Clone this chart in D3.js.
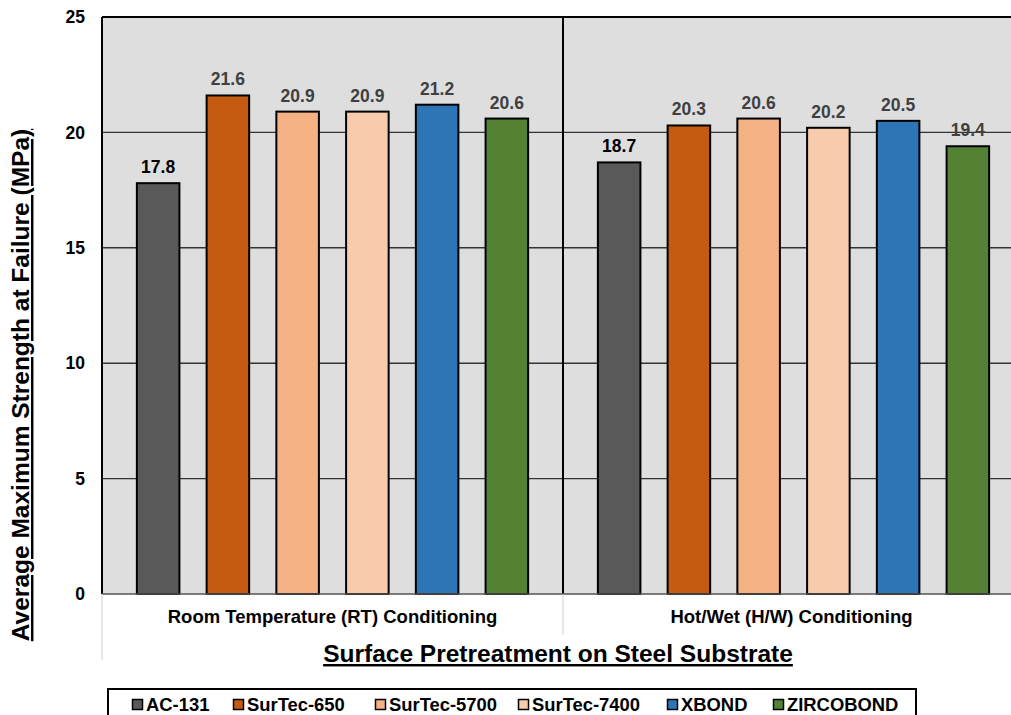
<!DOCTYPE html>
<html><head><meta charset="utf-8">
<script src="https://cdn.jsdelivr.net/npm/d3@7"></script>
<style>body{margin:0;background:#fff;} svg{display:block;font-family:"Liberation Sans",Arial,sans-serif;font-weight:bold;}</style>
</head><body>
<script>
const groups = ["Room Temperature (RT) Conditioning", "Hot/Wet (H/W) Conditioning"];
const series = ["AC-131", "SurTec-650", "SurTec-5700", "SurTec-7400", "XBOND", "ZIRCOBOND"];
const rtValues = [17.8, 21.6, 20.9, 20.9, 21.2, 20.6];
const hwValues = [18.7, 20.3, 20.6, 20.2, 20.5, 19.4];
const colors = ["#595959", "#C55A11", "#F4B183", "#F8CBAD", "#2E75B6", "#548235"];
const yTicks = [0, 5, 10, 15, 20, 25];
const values = [rtValues, hwValues];

const W = 1011, H = 715;
const svg = d3.select("body").append("svg").attr("width", W).attr("height", H);

const L = 102, R = 1024, T = 17, B = 594;
const x0 = d3.scaleBand().domain(groups).range([L, R]);
const x1 = d3.scaleBand().domain(series).range([0, x0.bandwidth()]).paddingInner(0.39).paddingOuter(0.5);
const y = d3.scaleLinear().domain([0, 25]).range([B, T]);

// background
svg.append("rect").attr("x", L).attr("y", T).attr("width", R - L).attr("height", B - T).attr("fill", "#dedede");

// gridlines
svg.append("g").selectAll("line").data(yTicks.filter(d => d > 0 && d < 25)).join("line")
  .attr("x1", L).attr("x2", R).attr("y1", d => y(d)).attr("y2", d => y(d))
  .attr("stroke", "#333").attr("stroke-width", 1.4);

// bars
const data = [];
groups.forEach((g, gi) => series.forEach((s, si) => data.push({g, s, si, v: values[gi][si]})));
svg.append("g").selectAll("rect").data(data).join("rect")
  .attr("x", d => x0(d.g) + x1(d.s)).attr("width", x1.bandwidth())
  .attr("y", d => y(d.v)).attr("height", d => y(0) - y(d.v))
  .attr("fill", d => colors[d.si]).attr("stroke", "#000").attr("stroke-width", 2);

// value labels
svg.append("g").selectAll("text").data(data).join("text")
  .attr("x", d => x0(d.g) + x1(d.s) + x1.bandwidth() / 2).attr("y", d => y(d.v) - 10)
  .attr("text-anchor", "middle").attr("font-size", 17.5).attr("font-weight", "bold")
  .attr("fill", d => d.si === 0 ? "#000" : "#404040")
  .text(d => d.v.toFixed(1));

// plot frame: top, left, group divider
svg.append("line").attr("x1", L).attr("x2", R).attr("y1", T).attr("y2", T).attr("stroke", "#000").attr("stroke-width", 2);
svg.append("line").attr("x1", L).attr("x2", L).attr("y1", T).attr("y2", B).attr("stroke", "#000").attr("stroke-width", 2);
svg.append("line").attr("x1", x0(groups[1])).attr("x2", x0(groups[1])).attr("y1", T).attr("y2", B).attr("stroke", "#000").attr("stroke-width", 2);

// y axis
const yAxis = svg.append("g").attr("transform", `translate(${L},0)`)
  .call(d3.axisLeft(y).tickValues(yTicks).tickSize(0).tickPadding(17));
yAxis.select(".domain").remove();
yAxis.selectAll("text").attr("font-size", 17.5).attr("font-weight", "bold").attr("fill", "#000")
  .attr("font-family", "Liberation Sans, Arial, sans-serif");

// bottom axis line
svg.append("line").attr("x1", L).attr("x2", R).attr("y1", B).attr("y2", B).attr("stroke", "#555").attr("stroke-width", 1.5);

// category separators
svg.append("line").attr("x1", L).attr("x2", L).attr("y1", B).attr("y2", 660).attr("stroke", "#d0d0d0").attr("stroke-width", 1);
svg.append("line").attr("x1", x0(groups[1])).attr("x2", x0(groups[1])).attr("y1", B).attr("y2", 635).attr("stroke", "#d0d0d0").attr("stroke-width", 1);

// category labels
svg.append("g").selectAll("text").data(groups).join("text")
  .attr("x", g => x0(g) + x0.bandwidth() / 2 - (g === groups[1] ? 2 : 0)).attr("y", 623)
  .attr("text-anchor", "middle").attr("font-size", 18.5).attr("font-weight", "bold").attr("fill", "#000").text(g => g);

// axis titles
svg.append("text").attr("x", 558).attr("y", 662).attr("text-anchor", "middle").attr("font-size", 24.5).attr("font-weight", "bold")
  .attr("text-decoration", "underline").attr("fill", "#000").text("Surface Pretreatment on Steel Substrate");
svg.append("text").attr("transform", "translate(29,385) rotate(-90)").attr("text-anchor", "middle").attr("font-size", 24.5).attr("font-weight", "bold")
  .attr("text-decoration", "underline").attr("fill", "#000").text("Average Maximum Strength at Failure (MPa)");

// legend
svg.append("rect").attr("x", 108).attr("y", 689).attr("width", 808).attr("height", 40)
  .attr("fill", "#fff").attr("stroke", "#000").attr("stroke-width", 2);
const legX = [132, 233, 375, 518, 667, 773];
const lg = svg.append("g").selectAll("g").data(series).join("g")
  .attr("transform", (d, i) => `translate(${legX[i]},0)`);
lg.append("rect").attr("x", 0.5).attr("y", 699.5).attr("width", 10).attr("height", 10)
  .attr("fill", (d, i) => colors[i]).attr("stroke", "#000").attr("stroke-width", 1.5);
lg.append("text").attr("x", 14).attr("y", 711).attr("font-size", 18.4).attr("font-weight", "bold").attr("fill", "#000").text(d => d);
</script>
</body></html>
